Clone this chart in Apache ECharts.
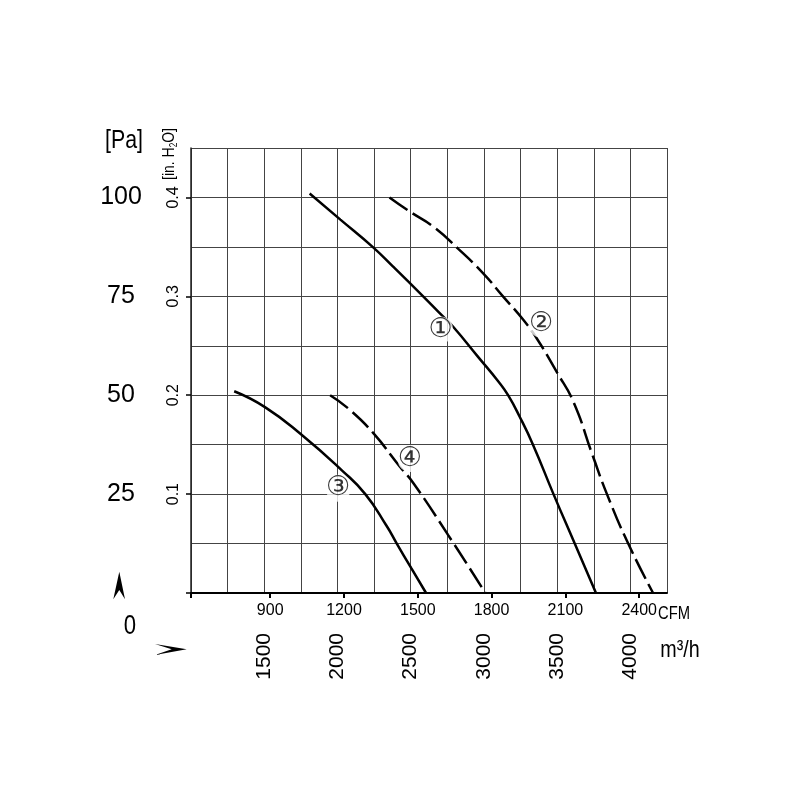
<!DOCTYPE html>
<html><head><meta charset="utf-8">
<script src="https://cdn.jsdelivr.net/npm/echarts@6/dist/echarts.min.js"></script>
<style>html,body{margin:0;padding:0;background:#fff}#c{width:800px;height:800px}</style>
</head><body><div id="c"></div>
<script>
// Airflow in m³/h, pressure in Pa
const curve1 = [[1810,101],[2020,94.4],[2240,87.5],[2380,82.5],[2585,75],[2710,70.3],[2790,67.3],[2960,59.7],[3100,53.4],[3165,50],[3245,44.5],[3335,37.5],[3475,25],[3620,12.5],[3765,0]];
const curve2 = [[2355,100],[2495,96.4],[2655,92.6],[2825,87],[2995,80.8],[3130,75],[3270,69],[3360,64.4],[3495,56],[3610,48.4],[3745,34.5],[3840,25],[3985,12.5],[4155,0]];
const curve3 = [[1295,51],[1505,47],[1755,40],[2030,31],[2190,25],[2335,17],[2405,12.5],[2505,6.2],[2605,0]];
const curve4 = [[1950,50],[2085,46.3],[2245,40.4],[2425,32],[2520,27.7],[2755,14.7],[3010,0]];
const curveLabels = [['①',2705,66.5],['②',3390,68],['③',2005,26.5],['④',2495,34]];
const m3hTicks = [1500,2000,2500,3000,3500,4000];
const cfmTicks = [900,1200,1500,1800,2100,2400];
const inH2OTicks = [0.1,0.2,0.3,0.4];
const paTicks = [25,50,75,100];

const FONT = "'Liberation Sans','Arial',sans-serif";
const chart = echarts.init(document.getElementById('c'), null, {renderer:'canvas'});
const lineSeries = (data, dashed) => ({
  type:'line', xAxisIndex:0, yAxisIndex:1, data, smooth:0.5, symbol:'none', silent:true,
  lineStyle:{color:'#000', width:2.5, type: dashed ? [22,6] : 'solid'}
});
chart.setOption({
  animation:false,
  backgroundColor:'#fff',
  grid:{left:191, top:148, width:476, height:445, containLabel:false},
  xAxis:[
    {type:'value', min:1000, max:4250, interval:250, position:'bottom',
     axisLine:{show:true, onZero:false, lineStyle:{color:'#000', width:2}},
     axisTick:{show:false},
     splitLine:{show:true, lineStyle:{color:'#444', width:1}},
     axisLabel:{customValues:m3hTicks, rotate:90, margin:40, fontSize:21, fontFamily:FONT, color:'#000',
       formatter:v=>String(v)}},
    {type:'value', min:578, max:2513, position:'bottom',
     axisLine:{show:false, onZero:false},
     axisTick:{show:true, customValues:[578].concat(cfmTicks), length:5, lineStyle:{color:'#000', width:2}},
     splitLine:{show:false},
     axisLabel:{customValues:cfmTicks, margin:10, fontSize:16, fontFamily:FONT, color:'#000',
       formatter:v=>String(v)}}
  ],
  yAxis:[
    {type:'value', min:0, max:0.45, interval:0.05, position:'left',
     axisLine:{show:true, onZero:false, lineStyle:{color:'#222', width:1.5}},
     axisTick:{show:false},
     splitLine:{show:true, lineStyle:{color:'#444', width:1}},
     axisLabel:{customValues:inH2OTicks, rotate:90, margin:9, fontSize:16, fontFamily:FONT, color:'#000',
       formatter:v=>Number(v).toFixed(1)}},
    {type:'value', min:0, max:112.5, position:'left',
     axisLine:{show:false, onZero:false}, axisTick:{show:false}, splitLine:{show:false},
     axisLabel:{customValues:paTicks, margin:70, align:'center', fontSize:25, fontFamily:FONT, color:'#000',
       formatter:v=>String(v)}},
    {type:'value', min:0, max:0.45, position:'left',
     axisLine:{show:false, onZero:false}, splitLine:{show:false}, axisLabel:{show:false},
     axisTick:{show:true, customValues:[0,0.1,0.2,0.3,0.4], length:5, lineStyle:{color:'#000', width:1.5}}}
  ],
  series:[
    lineSeries(curve1,false),
    lineSeries(curve2,true),
    lineSeries(curve3,false),
    lineSeries(curve4,true),
    {type:'scatter', xAxisIndex:0, yAxisIndex:1, silent:true, symbolSize:0, z:10,
     data: curveLabels.map(d=>({name:d[0], value:[d[1],d[2]]})),
     label:{show:true, position:'inside', formatter:'{b}', color:'#000', fontSize:27,
       fontFamily:"'DejaVu Sans','Noto Sans CJK JP',sans-serif",
       backgroundColor:'#fff', borderRadius:12, padding:[0,0]}}
  ],
  graphic:[
    {type:'text', x:124, y:141, scaleX:0.82, style:{text:'[Pa]', font:'26px '+FONT, fill:'#000', textAlign:'center', textVerticalAlign:'middle'}},
    {type:'text', x:169, y:154, rotation:Math.PI/2, scaleX:0.82,
     style:{text:'{a|[in. H}{s|2}{a|O]}', textAlign:'center', textVerticalAlign:'middle', fill:'#000',
       rich:{a:{fontSize:17, fontFamily:FONT, lineHeight:20}, s:{fontSize:10, fontFamily:FONT, verticalAlign:'bottom', lineHeight:14}}}},
    {type:'text', x:130, y:627, scaleX:0.82, style:{text:'0', font:'27px '+FONT, fill:'#000', textAlign:'center', textVerticalAlign:'middle'}},
    {type:'text', x:674, y:614, scaleX:0.82, style:{text:'CFM', font:'18px '+FONT, fill:'#000', textAlign:'center', textVerticalAlign:'middle'}},
    {type:'text', x:680, y:650, scaleX:0.82, style:{text:'m³/h', font:'24px '+FONT, fill:'#000', textAlign:'center', textVerticalAlign:'middle'}},
    {type:'polygon', shape:{points:[[119.3,571.7],[125,599.3],[119.3,590],[113.3,599.3]]}, style:{fill:'#000'}},
    {type:'polygon', shape:{points:[[186.7,649.3],[155,655],[171.7,649.3],[155,644]]}, style:{fill:'#000'}}
  ]
});
</script></body></html>
